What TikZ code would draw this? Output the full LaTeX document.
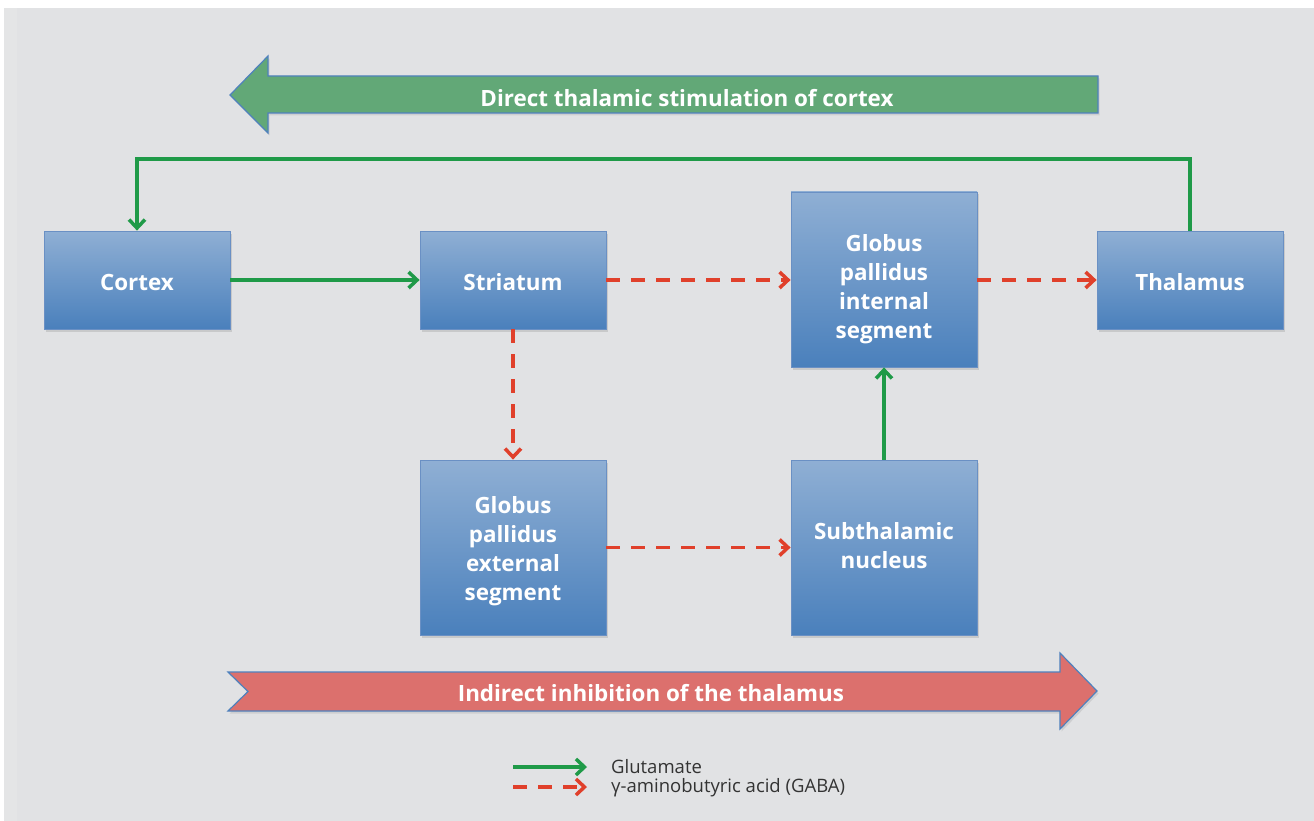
\documentclass[tikz,border=0pt]{standalone}
\usepackage{fontspec}
\setmainfont{Open Sans}
\usetikzlibrary{arrows.meta,shadows}
\definecolor{bg}{HTML}{E1E2E4}
\definecolor{bgstrip}{HTML}{E4E5E6}
\definecolor{boxtop}{HTML}{8FAFD4}
\definecolor{boxbot}{HTML}{4A80BC}
\definecolor{boxline}{HTML}{6A90C4}
\definecolor{glu}{HTML}{1F9A48}
\definecolor{gaba}{HTML}{E0402B}
\definecolor{greenarr}{HTML}{62A877}
\definecolor{redarr}{HTML}{DC706D}
\definecolor{arrline}{HTML}{4F81BD}
\definecolor{legtext}{HTML}{333333}
\tikzset{
  boxtext/.style={text=white, font=\fontsize{22.4}{29}\selectfont\bfseries, align=center, inner sep=0pt},
  brainbox/.style={draw=boxline, line width=0.8pt, top color=boxtop, bottom color=boxbot,
    minimum width=186pt, inner sep=0pt,
    drop shadow={shadow xshift=1.5pt, shadow yshift=-2.5pt, opacity=0.25}},
  shortbox/.style={brainbox, minimum height=98pt},
  tallbox/.style={brainbox, minimum height=175pt},
  glupath/.style={draw=glu, line width=3.5pt, -{Straight Barb[length=8.5pt,width=16pt]}},
  gabapath/.style={draw=gaba, line width=3.5pt, dash pattern=on 14pt off 11pt, -{Straight Barb[length=8.5pt,width=16pt]}},
  bigarrow/.style={draw=arrline, line width=1.2pt, line join=miter,
    drop shadow={shadow xshift=1.5pt, shadow yshift=-2.5pt, opacity=0.2}},
  legendtext/.style={text=legtext, font=\fontsize{18.5}{21}\selectfont, anchor=west, inner sep=0pt}
}
\begin{document}
\begin{tikzpicture}[x=1pt,y=-1pt]
\useasboundingbox (0,0) rectangle (1314,821);
\fill[white] (0,0) rectangle (1314,821);
\fill[bg] (4,8) rectangle (1314,821);
\fill[bgstrip] (4,8) rectangle (17,821);

% big arrows
\path[bigarrow, fill=greenarr] (230,95) -- (268,56) -- (268,76) -- (1098,76) -- (1098,113) -- (268,113) -- (268,133) -- cycle;
\node[boxtext] (directlabel) at (687,98) {Direct thalamic stimulation of cortex};
\path[bigarrow, fill=redarr] (228,672) -- (1060,672) -- (1060,653) -- (1097,691) -- (1060,729) -- (1060,711) -- (228,711) -- (248,691.5) -- cycle;
\node[boxtext] (indirectlabel) at (651,693) {Indirect inhibition of the thalamus};

% boxes
\node[shortbox] (cortex) at (137,280) {};
\node[shortbox] (striatum) at (513,280) {};
\node[tallbox] (gpi) at (884,279.5) {};
\node[shortbox] (thalamus) at (1190,280) {};
\node[tallbox] (gpe) at (513,547.5) {};
\node[tallbox] (stn) at (884,547.5) {};

% box texts
\node[boxtext] (cortextext) at (137,282) {Cortex};
\node[boxtext] (striatumtext) at (513,282) {Striatum};
\node[boxtext] (gpitext) at (884,289.5) {Globus\\pallidus\\internal\\segment};
\node[boxtext] (thalamustext) at (1190,282) {Thalamus};
\node[boxtext] (gpetext) at (513,551) {Globus\\pallidus\\external\\segment};
\node[boxtext] (stntext) at (884,545.5) {Subthalamic\\nucleus};

% connectors
\coordinate (topline) at (0,159);
\draw[glupath] (cortex.east) -- (striatum.west);
\draw[gabapath] (striatum.east) -- (striatum.east -| gpi.west);
\draw[gabapath] (thalamus.west -| gpi.east) -- (thalamus.west);
\draw[gabapath] (striatum.south) -- (gpe.north);
\draw[gabapath] (gpe.east) -- (stn.west);
\draw[glupath] (stn.north) -- (gpi.south);
\draw[glupath, line join=miter] (thalamus.north) -- (thalamus.north |- topline) -| (cortex.north);

% legend
\coordinate (gluA) at (513,767);
\coordinate (gluB) at (587,767);
\coordinate (gabaA) at (513,787);
\coordinate (gabaB) at (587,787);
\draw[glupath] (gluA) -- (gluB);
\draw[gabapath] (gabaA) -- (gabaB);
\node[legendtext] (glulabel) at (611,767) {Glutamate};
\node[legendtext] (gabalabel) at (611,788) {γ-aminobutyric acid (GABA)};
\end{tikzpicture}
\end{document}
